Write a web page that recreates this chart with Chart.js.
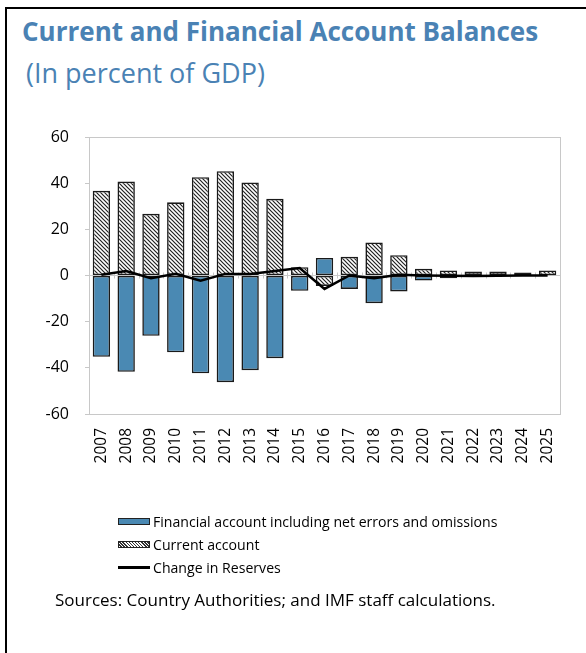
<!DOCTYPE html>
<html>
<head>
<meta charset="utf-8">
<script src="https://cdn.jsdelivr.net/npm/chart.js@4.4.1/dist/chart.umd.min.js"></script>
<style>
  html, body { margin: 0; padding: 0; background: #fff; }
  body { width: 586px; height: 653px; position: relative; overflow: hidden; font-family: "Open Sans", "Noto Sans", sans-serif; }
  #frame { position: absolute; left: 5px; top: 7px; width: 600px; height: 700px; border-left: 2px solid #000; border-top: 2px solid #000; }
  #title { position: absolute; left: 22px; top: 13px; font-size: 26px; line-height: 36px; font-weight: bold; color: #4a82b4; white-space: nowrap; }
  #subtitle { position: absolute; left: 26px; top: 55px; font-size: 27px; line-height: 36px; color: #4a82b4; white-space: nowrap; }
  #chartWrap { position: absolute; left: 0; top: 0; width: 586px; height: 653px; }
  #legend { position: absolute; left: 118px; top: 510px; font-size: 14.1px; color: #000; }
  .row { height: 23px; display: flex; align-items: center; white-space: nowrap; }
  .sw { width: 32px; height: 7px; box-sizing: border-box; margin-right: 3px; }
  .sw.blue { background: #4a89b3; border: 1.5px solid #222; }
  .sw.hatch { border: 1.5px solid #222; background: repeating-linear-gradient(45deg, #fff 0 1.2px, #333 1.2px 2.2px); }
  .sw.line { height: 3px; background: #000; border: none; }
  #sources { position: absolute; left: 55px; top: 588px; font-size: 17px; line-height: 24px; color: #000; white-space: nowrap; }
</style>
</head>
<body>
<div id="frame"></div>
<div id="title">Current and Financial Account Balances</div>
<div id="subtitle">(In percent of GDP)</div>
<div id="chartWrap"><canvas id="c" width="586" height="653"></canvas></div>
<div id="legend">
  <div class="row"><div class="sw blue"></div>Financial account including net errors and omissions</div>
  <div class="row"><div class="sw hatch"></div>Current account</div>
  <div class="row"><div class="sw line"></div>Change in Reserves</div>
</div>
<div id="sources">Sources: Country Authorities; and IMF staff calculations.</div>
<script>
const years = ["2007","2008","2009","2010","2011","2012","2013","2014","2015","2016","2017","2018","2019","2020","2021","2022","2023","2024","2025"];
const financialAccount = [-35.2,-41.7,-26.1,-33.3,-42.4,-46.2,-41.0,-35.8,-6.6,7.6,-5.8,-12.0,-6.9,-2.2,-1.2,-0.3,-0.3,-0.1,-0.1];
const currentAccount = [36.7,40.7,26.7,31.7,42.6,45.2,40.3,33.2,3.6,-4.5,8.1,14.3,8.8,2.9,2.2,1.7,1.7,1.3,2.2];
const changeInReserves = [0.3,1.9,-1.2,0.7,-2.3,0.7,0.7,1.9,3.2,-5.8,0.0,-1.2,0.3,0.0,-0.1,-0.2,-0.1,0.0,0.0];
const yTicks = [-60,-40,-20,0,20,40,60];

function makeHatch() {
  const p = document.createElement('canvas');
  p.width = 4; p.height = 4;
  const g = p.getContext('2d');
  g.fillStyle = '#fff'; g.fillRect(0,0,4,4);
  g.strokeStyle = '#222'; g.lineWidth = 1.2;
  g.beginPath();
  g.moveTo(-1,-1); g.lineTo(5,5);
  g.moveTo(3,-1); g.lineTo(5,1);
  g.moveTo(-1,3); g.lineTo(1,5);
  g.stroke();
  return document.getElementById('c').getContext('2d').createPattern(p, 'repeat');
}

const plotFrame = {
  id: 'plotFrame',
  beforeDatasetsDraw(chart) {
    const {ctx, chartArea: a, scales} = chart;
    const y0 = scales.y.getPixelForValue(0);
    ctx.save();
    ctx.strokeStyle = '#c8c8c8';
    ctx.lineWidth = 1;
    ctx.beginPath();
    const n = chart.data.labels.length;
    for (let i = 0; i <= n; i++) {
      const x = Math.round(a.left + (a.right - a.left) * i / n) + 0.5;
      ctx.moveTo(x, y0 - 3); ctx.lineTo(x, y0 + 3);
    }
    ctx.stroke();
    ctx.restore();
  },
  afterDraw(chart) {
    const {ctx, chartArea: a} = chart;
    ctx.save();
    ctx.strokeStyle = '#c8c8c8';
    ctx.lineWidth = 1;
    ctx.strokeRect(Math.round(a.left) + 0.5, Math.round(a.top) + 0.5, Math.round(a.right - a.left), Math.round(a.bottom - a.top));
    ctx.restore();
  }
};

const hatch = makeHatch();
new Chart(document.getElementById('c'), {
  data: {
    labels: years,
    datasets: [
      { type: 'line', label: 'Change in Reserves', data: changeInReserves, borderColor: '#000', borderWidth: 2.5, pointRadius: 0, tension: 0, stack: 'line', order: 0 },
      { type: 'bar', label: 'Financial account including net errors and omissions', data: financialAccount, backgroundColor: '#4a89b3', borderColor: '#1a1a1a', borderWidth: 1.6, borderSkipped: false, stack: 'bars', order: 1, barPercentage: 0.7, categoryPercentage: 1.0 },
      { type: 'bar', label: 'Current account', data: currentAccount, backgroundColor: hatch, borderColor: '#1a1a1a', borderWidth: 1.6, borderSkipped: false, stack: 'bars', order: 2, barPercentage: 0.7, categoryPercentage: 1.0 }
    ]
  },
  options: {
    responsive: false,
    animation: false,
    layout: { padding: { left: 0, right: 26, top: 137, bottom: 179 } },
    plugins: { legend: { display: false }, tooltip: { enabled: false }, title: { display: false } },
    scales: {
      x: {
        stacked: true,
        grid: { display: false },
        border: { display: false },
        ticks: { color: '#000', font: { family: '"Open Sans", sans-serif', size: 15.5 }, minRotation: 90, maxRotation: 90, padding: 6, autoSkip: false },
        afterFit(s) { s.height = 60; }
      },
      y: {
        stacked: true,
        min: -60, max: 60,
        afterBuildTicks(s) { s.ticks = yTicks.map(v => ({ value: v })); },
        grid: {
          drawOnChartArea: true, drawTicks: true, tickLength: 4,
          color: (c) => (c.tick && c.tick.value === 0) ? '#c8c8c8' : 'rgba(0,0,0,0)',
          tickColor: '#c8c8c8', lineWidth: 1
        },
        border: { display: false },
        ticks: { color: '#000', font: { family: '"Open Sans", sans-serif', size: 16 }, padding: 16 },
        afterFit(s) { s.width = 89; }
      }
    }
  },
  plugins: [plotFrame]
});
</script>
</body>
</html>
